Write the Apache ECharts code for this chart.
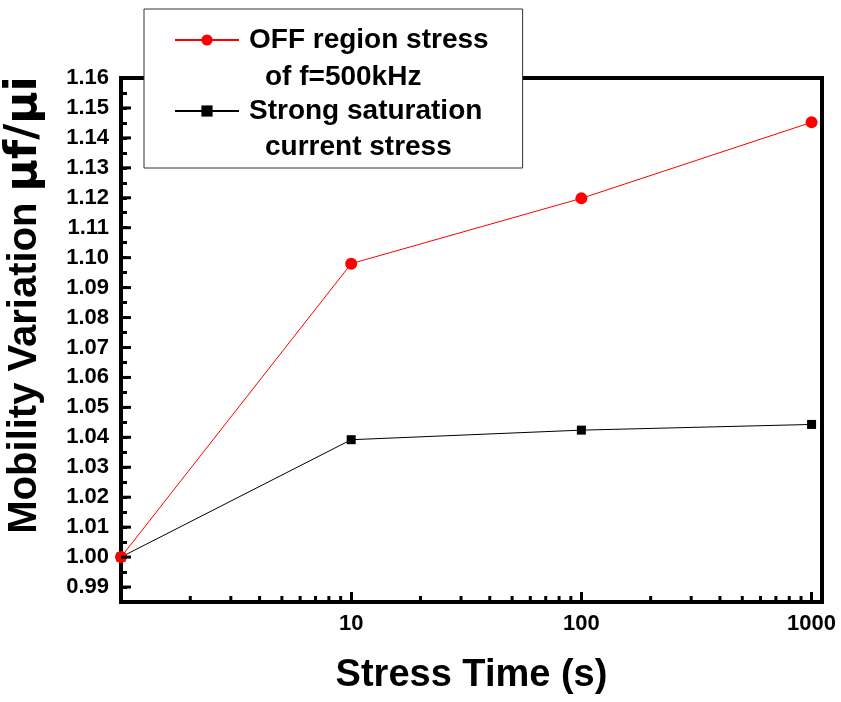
<!DOCTYPE html>
<html>
<head>
<meta charset="utf-8">
<script src="https://cdn.jsdelivr.net/npm/echarts@6/dist/echarts.min.js"></script>
<style>
    html, body { margin: 0; padding: 0; background: #fff; }
    #chart { width: 841px; height: 702px; }
</style>
</head>
<body>
<div id="chart"></div>
<script>
    // stress time (s)
    const stressTime = [1, 10, 100, 1000];
    // mobility variation uf/ui
    const offRegion = [1.000, 1.098, 1.1198, 1.1452];
    const strongSat = [1.000, 1.0392, 1.0424, 1.0443];
    const xTickLabels = [10, 100, 1000];

    const Y_MIN = 0.985;
    const Y_MAX = 1.16;
    const FONT = '"Liberation Sans", Arial, sans-serif';

    // minor ticks of the log axis (2..9 in each decade)
    const minorX = [];
    [1, 10, 100].forEach(d => {
        for (let k = 2; k <= 9; k++) minorX.push([k * d, Y_MIN]);
    });
    // labelled (long) ticks of the y axis
    const majorY = [];
    for (let k = 99; k <= 116; k++) majorY.push([1, k / 100]);

    const myChart = echarts.init(document.getElementById('chart'));

    const option = {
        animation: false,
        backgroundColor: '#fff',
        grid: {
            left: 121,
            right: 19,
            top: 78,
            bottom: 100,
            outerBoundsMode: 'none',
            show: true,
            borderColor: '#000',
            borderWidth: 4,
            backgroundColor: 'transparent'
        },
        legend: {
            data: ['OFF region stress', 'Strong saturation'],
            orient: 'vertical',
            left: 144,
            top: 9,
            padding: [14, 34, 40, 30],
            itemWidth: 64,
            itemHeight: 14,
            itemGap: 37,
            backgroundColor: '#fff',
            borderColor: '#333',
            borderWidth: 1,
            textStyle: {
                fontFamily: FONT,
                fontWeight: 'bold',
                fontSize: 28,
                lineHeight: 34,
                color: '#000',
                padding: [0, 0, 0, 5]
            }
        },
        graphic: [
            {
                type: 'text', left: 265, top: 63, z: 100,
                style: { text: 'of f=500kHz', font: 'bold 28px ' + FONT, fill: '#000' }
            },
            {
                type: 'text', left: 265, top: 133, z: 100,
                style: { text: 'current stress', font: 'bold 28px ' + FONT, fill: '#000' }
            }
        ],
        xAxis: {
            type: 'log',
            logBase: 10,
            min: 1,
            max: 1110,
            name: 'Stress Time (s)',
            nameLocation: 'middle',
            nameGap: 55,
            nameTextStyle: {
                fontFamily: FONT,
                fontWeight: 'bold',
                fontSize: 38,
                color: '#000'
            },
            splitLine: { show: false },
            axisLine: { onZero: false, lineStyle: { color: '#000', width: 4 } },
            axisTick: {
                inside: true,
                length: 10,
                lineStyle: { color: '#000', width: 3 }
            },
            axisLabel: {
                margin: 11,
                fontFamily: FONT,
                fontWeight: 'bold',
                fontSize: 22,
                color: '#000',
                showMinLabel: true,
                showMaxLabel: true,
                formatter: v => xTickLabels.indexOf(Math.round(v)) >= 0 && Math.abs(v - Math.round(v)) < 1e-6 ? String(Math.round(v)) : ''
            }
        },
        yAxis: {
            type: 'value',
            min: Y_MIN,
            max: Y_MAX,
            interval: 0.005,
            name: '{a|Mobility Variation }{b|μf/μi}',
            nameLocation: 'middle',
            nameGap: 74,
            nameRotate: 90,
            nameTextStyle: {
                padding: [0, 0, 0, 70],
                rich: {
                    a: { fontFamily: FONT, fontWeight: 'bold', fontSize: 40, color: '#000' },
                    b: { fontFamily: '"DejaVu Sans", sans-serif', fontWeight: 'bold', fontSize: 44, color: '#000' }
                }
            },
            splitLine: { show: false },
            axisLine: { lineStyle: { color: '#000', width: 4 } },
            axisTick: {
                inside: true,
                length: 6,
                lineStyle: { color: '#000', width: 3 }
            },
            axisLabel: {
                margin: 12,
                fontFamily: FONT,
                fontWeight: 'bold',
                fontSize: 22,
                color: '#000',
                formatter: v => {
                    const m = Math.round(v * 1000);
                    return m % 10 === 0 ? (m / 1000).toFixed(2) : '';
                }
            }
        },
        series: [
            {
                name: 'Strong saturation',
                type: 'line',
                data: stressTime.map((t, i) => [t, strongSat[i]]),
                symbol: 'rect',
                symbolSize: 9,
                lineStyle: { color: '#000', width: 1 },
                itemStyle: { color: '#000' },
                z: 3
            },
            {
                name: 'OFF region stress',
                type: 'line',
                data: stressTime.map((t, i) => [t, offRegion[i]]),
                symbol: 'circle',
                symbolSize: 12,
                lineStyle: { color: '#ff0000', width: 1 },
                itemStyle: { color: '#ff0000' },
                z: 4
            },
            {
                name: 'extraTicks',
                type: 'custom',
                silent: true,
                data: minorX.concat(majorY),
                encode: { x: 0, y: 1 },
                renderItem: (params, api) => {
                    const p = api.coord([api.value(0), api.value(1)]);
                    if (params.dataIndex < minorX.length) {
                        return {
                            type: 'line',
                            shape: { x1: p[0], y1: p[1], x2: p[0], y2: p[1] - 6 },
                            style: { stroke: '#000', lineWidth: 3 }
                        };
                    }
                    return {
                        type: 'line',
                        shape: { x1: p[0], y1: p[1], x2: p[0] + 10, y2: p[1] },
                        style: { stroke: '#000', lineWidth: 3 }
                    };
                },
                z: 5
            }
        ]
    };

    myChart.setOption(option);
    window.addEventListener('resize', () => myChart.resize(), false);
</script>
</body>
</html>
